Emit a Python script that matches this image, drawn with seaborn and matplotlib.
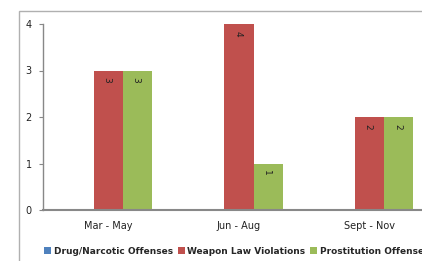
import matplotlib
matplotlib.use("Agg")
import matplotlib.pyplot as plt
from matplotlib.patches import Rectangle, Patch
import seaborn as sns
import pandas as pd

categories = ["Mar - May", "Jun - Aug", "Sept - Nov"]
series = ["Drug/Narcotic Offenses", "Weapon Law Violations", "Prostitution Offenses"]
drug = [0, 0, 0]
weapon = [3, 4, 2]
prostitution = [3, 1, 2]
colors = ["#4F81BD", "#C0504D", "#9BBB59"]
yticks = [0, 1, 2, 3, 4]

rows = []
for name, vals in zip(series, [drug, weapon, prostitution]):
    for c, v in zip(categories, vals):
        rows.append({"period": c, "series": name, "count": v})
df = pd.DataFrame(rows)

sns.set_style("white")
plt.rcParams['font.family'] = ['DejaVu Sans']

fig = plt.figure(figsize=(4.22, 2.61), dpi=100)
ax = fig.add_axes([43/422, 1-210/261, (435-43)/422, (210-24)/261])

sns.barplot(data=df, x="period", y="count", hue="series", hue_order=series,
            order=categories, palette=colors, width=0.67, ax=ax,
            saturation=1, legend=False, edgecolor="none")

for cont in ax.containers:
    for p in cont:
        h = p.get_height()
        if h > 0:
            ax.annotate(f"{int(h)}", xy=(p.get_x() + p.get_width()/2, h),
                        xytext=(-1, -5), textcoords="offset points",
                        ha="center", va="top", rotation=-90, fontsize=6.5,
                        color="#222222")

ax.set_xlim(-0.5, 2.5)
ax.set_ylim(0, 4)
ax.set_yticks(yticks)
ax.set_xlabel("")
ax.set_ylabel("")
ax.set_xticks([0, 1, 2])
ax.set_xticklabels(categories, fontsize=7, color="#222222")
ax.tick_params(axis="x", length=0, pad=8)
ax.set_xticks([0.5, 1.5], minor=True)
ax.tick_params(axis="x", which="minor", length=3, color="#888888", direction="out", width=1)
ax.tick_params(axis="y", labelsize=7, length=3, color="#888888", direction="out",
               left=True, pad=5, labelcolor="#222222")
for s in ["top", "right"]:
    ax.spines[s].set_visible(False)
ax.spines["left"].set_color("#888888")
ax.spines["left"].set_linewidth(1)
ax.spines["bottom"].set_color("#888888")
ax.spines["bottom"].set_linewidth(1.5)

handles = [Patch(facecolor=c, edgecolor="none") for c in colors]
fig.legend(handles, series, loc="center left", bbox_to_anchor=(44/422, 1-251/261),
           ncol=3, frameon=False, prop={"size": 6.5, "weight": "bold"},
           handlelength=0.8, handleheight=0.8, handletextpad=0.3,
           columnspacing=0.5, borderaxespad=0, borderpad=0)

fig.patches.append(Rectangle((19/422, -0.2), 1.2, 1.2 - 11/261,
                             transform=fig.transFigure, fill=False,
                             edgecolor="#b0b0b0", linewidth=1))

fig.savefig("out.png", dpi=100)
